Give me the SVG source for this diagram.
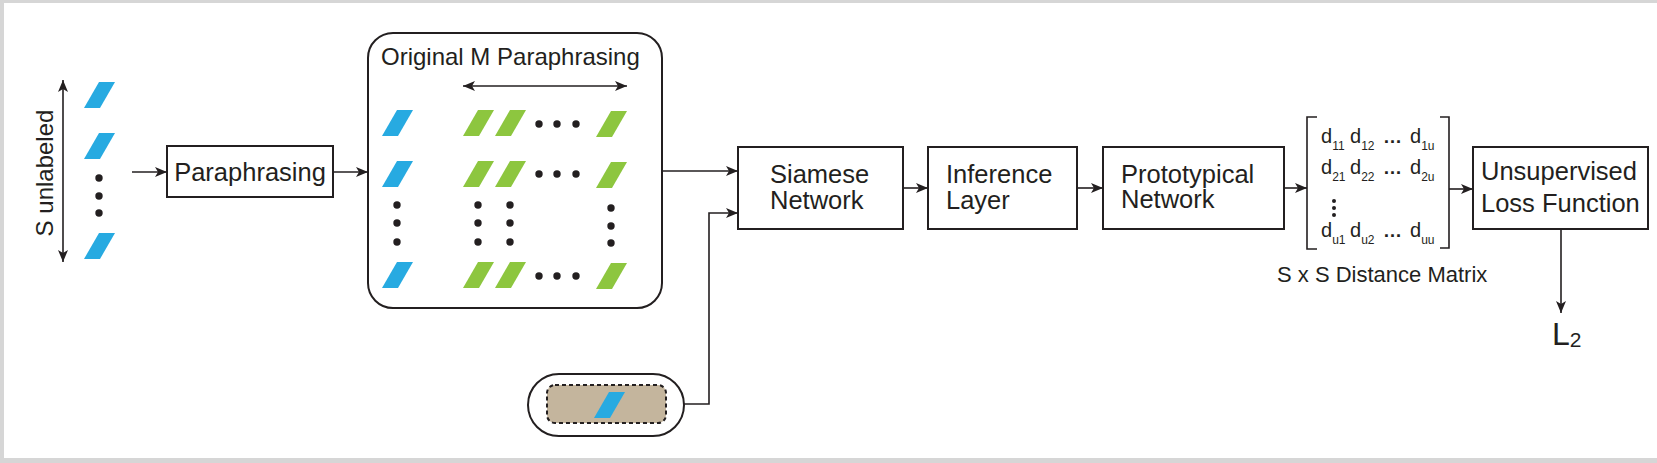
<svg xmlns="http://www.w3.org/2000/svg" width="1657" height="463" viewBox="0 0 1657 463">
<style>
text{font-family:"Liberation Sans",Arial,sans-serif;fill:#231f20}
.box{fill:#fff;stroke:#231f20;stroke-width:2}
.ln{fill:none;stroke:#231f20;stroke-width:1.6}
.blue{fill:#27aae1}
.green{fill:#8dc63f}
.dot{fill:#231f20}
.lbl{font-size:25.5px}
.d{font-size:20px}
.s{font-size:12px}
.el{font-size:19px;font-weight:bold}
</style>
<defs>
<marker id="ah" viewBox="0 0 12 10" refX="12" refY="5" markerWidth="12" markerHeight="10" orient="auto-start-reverse" markerUnits="userSpaceOnUse">
<path d="M0,0 L12,5 L0,10 L3,5 z" fill="#231f20"/>
</marker>
<path id="pg" d="M15,0 h16 l-15,26 h-16 z"/>
</defs>
<rect x="0" y="0" width="1657" height="463" fill="#d6d6d6"/>
<rect x="4" y="3" width="1653" height="455" fill="#ffffff"/>

<g id="input">
<line class="ln" x1="63" y1="80" x2="63" y2="262" marker-start="url(#ah)" marker-end="url(#ah)"/>
<text transform="translate(53,173) rotate(-90)" text-anchor="middle" style="font-size:24px">S unlabeled</text>
<use href="#pg" class="blue" x="84" y="82"/>
<use href="#pg" class="blue" x="84" y="133"/>
<circle class="dot" cx="99" cy="178" r="3.7"/>
<circle class="dot" cx="99" cy="196" r="3.7"/>
<circle class="dot" cx="99" cy="213" r="3.7"/>
<use href="#pg" class="blue" x="84" y="233"/>
</g>

<g id="paraphrasing">
<rect class="box" x="167" y="146" width="166" height="51"/>
<text class="lbl" x="250" y="181" text-anchor="middle">Paraphrasing</text>
</g>

<g id="original-m-paraphrasing">
<rect class="box" x="368" y="33" width="294" height="275" rx="25"/>
<text x="381" y="65" style="font-size:24px">Original M Paraphrasing</text>
<line class="ln" x1="463" y1="86" x2="627" y2="86" marker-start="url(#ah)" marker-end="url(#ah)"/>
<use href="#pg" class="blue" x="382" y="110"/>
<use href="#pg" class="blue" x="382" y="161"/>
<circle class="dot" cx="397" cy="205" r="3.7"/>
<circle class="dot" cx="397" cy="223" r="3.7"/>
<circle class="dot" cx="397" cy="242" r="3.7"/>
<use href="#pg" class="blue" x="382" y="262"/>
<use href="#pg" class="green" x="463" y="110"/>
<use href="#pg" class="green" x="495" y="110"/>
<use href="#pg" class="green" x="596" y="111"/>
<use href="#pg" class="green" x="463" y="161"/>
<use href="#pg" class="green" x="495" y="161"/>
<use href="#pg" class="green" x="596" y="162"/>
<use href="#pg" class="green" x="463" y="262"/>
<use href="#pg" class="green" x="495" y="262"/>
<use href="#pg" class="green" x="596" y="263"/>
<circle class="dot" cx="539" cy="124" r="3.7"/>
<circle class="dot" cx="557" cy="124" r="3.7"/>
<circle class="dot" cx="576" cy="124" r="3.7"/>
<circle class="dot" cx="539" cy="174" r="3.7"/>
<circle class="dot" cx="557" cy="174" r="3.7"/>
<circle class="dot" cx="576" cy="174" r="3.7"/>
<circle class="dot" cx="539" cy="276" r="3.7"/>
<circle class="dot" cx="557" cy="276" r="3.7"/>
<circle class="dot" cx="576" cy="276" r="3.7"/>
<circle class="dot" cx="478" cy="205" r="3.7"/>
<circle class="dot" cx="478" cy="223" r="3.7"/>
<circle class="dot" cx="478" cy="242" r="3.7"/>
<circle class="dot" cx="510" cy="205" r="3.7"/>
<circle class="dot" cx="510" cy="223" r="3.7"/>
<circle class="dot" cx="510" cy="242" r="3.7"/>
<circle class="dot" cx="611" cy="208" r="3.7"/>
<circle class="dot" cx="611" cy="226" r="3.7"/>
<circle class="dot" cx="611" cy="243" r="3.7"/>
</g>

<g id="query">
<rect class="box" x="528" y="374" width="156" height="62" rx="31"/>
<rect x="547" y="385" width="119" height="38" rx="8" fill="#c4b59d" stroke="#231f20" stroke-width="2" stroke-dasharray="4,3"/>
<use href="#pg" class="blue" x="594" y="392"/>
</g>

<g id="siamese-network">
<rect class="box" x="738" y="147" width="165" height="82"/>
<text class="lbl" x="770" y="183">Siamese</text>
<text class="lbl" x="770" y="209">Network</text>
</g>

<g id="inference-layer">
<rect class="box" x="928" y="147" width="149" height="82"/>
<text class="lbl" x="946" y="183">Inference</text>
<text class="lbl" x="946" y="209">Layer</text>
</g>

<g id="prototypical-network">
<rect class="box" x="1103" y="147" width="181" height="82"/>
<text class="lbl" x="1121" y="183">Prototypical</text>
<text class="lbl" x="1121" y="208">Network</text>
</g>

<g id="distance-matrix">
<path class="ln" d="M1317,117 H1307 V249 H1317"/>
<path class="ln" d="M1440,117 H1449 V248 H1440"/>
<text class="d" x="1321" y="143">d<tspan class="s" dy="7">11</tspan></text>
<text class="d" x="1350" y="143">d<tspan class="s" dy="7">12</tspan></text>
<text class="el" x="1383" y="143">…</text>
<text class="d" x="1410" y="143">d<tspan class="s" dy="7">1u</tspan></text>
<text class="d" x="1321" y="174">d<tspan class="s" dy="7">21</tspan></text>
<text class="d" x="1350" y="174">d<tspan class="s" dy="7">22</tspan></text>
<text class="el" x="1383" y="174">…</text>
<text class="d" x="1410" y="174">d<tspan class="s" dy="7">2u</tspan></text>
<circle class="dot" cx="1334" cy="201" r="2"/>
<circle class="dot" cx="1334" cy="208" r="2"/>
<circle class="dot" cx="1334" cy="215" r="2"/>
<text class="d" x="1321" y="237">d<tspan class="s" dy="7">u1</tspan></text>
<text class="d" x="1350" y="237">d<tspan class="s" dy="7">u2</tspan></text>
<text class="el" x="1383" y="237">…</text>
<text class="d" x="1410" y="237">d<tspan class="s" dy="7">uu</tspan></text>
<text x="1277" y="282" style="font-size:22px">S x S Distance Matrix</text>
</g>

<g id="unsupervised-loss">
<rect class="box" x="1473" y="147" width="175" height="82"/>
<text x="1481" y="180" style="font-size:25.5px">Unsupervised</text>
<text x="1481" y="212" style="font-size:25.5px">Loss Function</text>
</g>

<g id="l2">
<text x="1552" y="345" style="font-size:32px">L<tspan dy="2" style="font-size:21px">2</tspan></text>
</g>

<g id="connectors">
<line class="ln" x1="132" y1="172" x2="167" y2="172" marker-end="url(#ah)"/>
<line class="ln" x1="333" y1="172" x2="368" y2="172" marker-end="url(#ah)"/>
<line class="ln" x1="662" y1="171" x2="738" y2="171" marker-end="url(#ah)"/>
<polyline class="ln" points="684,404 709,404 709,213 738,213" marker-end="url(#ah)"/>
<line class="ln" x1="903" y1="188" x2="928" y2="188" marker-end="url(#ah)"/>
<line class="ln" x1="1077" y1="188" x2="1103" y2="188" marker-end="url(#ah)"/>
<line class="ln" x1="1284" y1="188" x2="1307" y2="188" marker-end="url(#ah)"/>
<line class="ln" x1="1449" y1="189" x2="1473" y2="189" marker-end="url(#ah)"/>
<line class="ln" x1="1561" y1="229" x2="1561" y2="313" marker-end="url(#ah)"/>
</g>
</svg>
